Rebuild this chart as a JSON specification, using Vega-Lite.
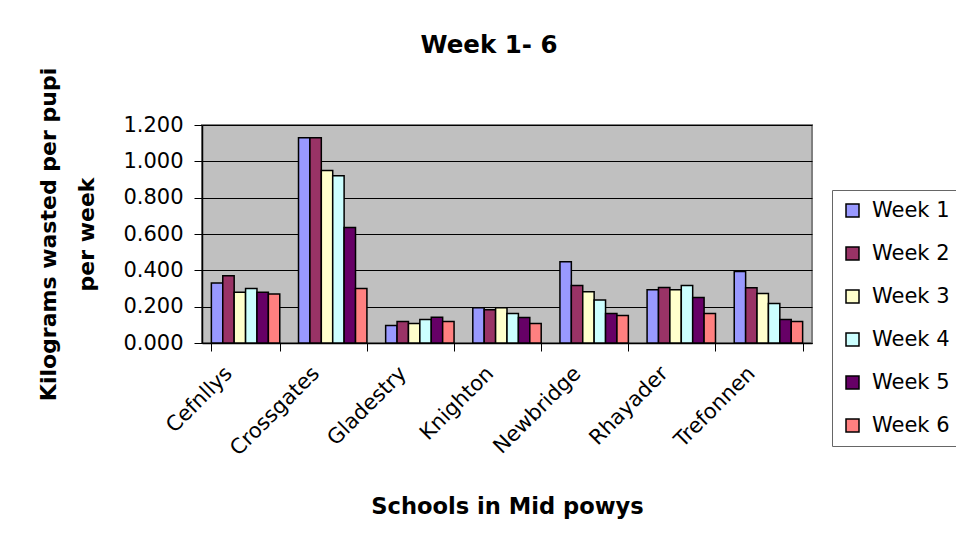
{
  "$schema": "https://vega.github.io/schema/vega-lite/v6.json",
  "autosize": {"type": "none"},
  "padding": {"left": 202, "top": 125, "right": 144, "bottom": 205},
  "width": 610,
  "height": 218,
  "background": "white",
  "title": {"text": "Week 1- 6", "font": "DejaVu Sans", "fontSize": 24.5, "fontWeight": "bold", "color": "black", "anchor": "middle", "frame": "group", "dx": -18, "baseline": "alphabetic", "offset": -10},
  "data": {"values": [
    {"school": "Cefnllys", "week": "Week 1", "kg": 0.33},
    {"school": "Cefnllys", "week": "Week 2", "kg": 0.37},
    {"school": "Cefnllys", "week": "Week 3", "kg": 0.28},
    {"school": "Cefnllys", "week": "Week 4", "kg": 0.30},
    {"school": "Cefnllys", "week": "Week 5", "kg": 0.28},
    {"school": "Cefnllys", "week": "Week 6", "kg": 0.27},
    {"school": "Crossgates", "week": "Week 1", "kg": 1.13},
    {"school": "Crossgates", "week": "Week 2", "kg": 1.13},
    {"school": "Crossgates", "week": "Week 3", "kg": 0.95},
    {"school": "Crossgates", "week": "Week 4", "kg": 0.92},
    {"school": "Crossgates", "week": "Week 5", "kg": 0.636},
    {"school": "Crossgates", "week": "Week 6", "kg": 0.30},
    {"school": "Gladestry", "week": "Week 1", "kg": 0.097},
    {"school": "Gladestry", "week": "Week 2", "kg": 0.118},
    {"school": "Gladestry", "week": "Week 3", "kg": 0.107},
    {"school": "Gladestry", "week": "Week 4", "kg": 0.13},
    {"school": "Gladestry", "week": "Week 5", "kg": 0.142},
    {"school": "Gladestry", "week": "Week 6", "kg": 0.118},
    {"school": "Knighton", "week": "Week 1", "kg": 0.194},
    {"school": "Knighton", "week": "Week 2", "kg": 0.183},
    {"school": "Knighton", "week": "Week 3", "kg": 0.194},
    {"school": "Knighton", "week": "Week 4", "kg": 0.163},
    {"school": "Knighton", "week": "Week 5", "kg": 0.14},
    {"school": "Knighton", "week": "Week 6", "kg": 0.108},
    {"school": "Newbridge", "week": "Week 1", "kg": 0.447},
    {"school": "Newbridge", "week": "Week 2", "kg": 0.317},
    {"school": "Newbridge", "week": "Week 3", "kg": 0.282},
    {"school": "Newbridge", "week": "Week 4", "kg": 0.237},
    {"school": "Newbridge", "week": "Week 5", "kg": 0.163},
    {"school": "Newbridge", "week": "Week 6", "kg": 0.152},
    {"school": "Rhayader", "week": "Week 1", "kg": 0.293},
    {"school": "Rhayader", "week": "Week 2", "kg": 0.306},
    {"school": "Rhayader", "week": "Week 3", "kg": 0.293},
    {"school": "Rhayader", "week": "Week 4", "kg": 0.317},
    {"school": "Rhayader", "week": "Week 5", "kg": 0.25},
    {"school": "Rhayader", "week": "Week 6", "kg": 0.163},
    {"school": "Trefonnen", "week": "Week 1", "kg": 0.393},
    {"school": "Trefonnen", "week": "Week 2", "kg": 0.304},
    {"school": "Trefonnen", "week": "Week 3", "kg": 0.272},
    {"school": "Trefonnen", "week": "Week 4", "kg": 0.218},
    {"school": "Trefonnen", "week": "Week 5", "kg": 0.13},
    {"school": "Trefonnen", "week": "Week 6", "kg": 0.118}
  ]},
  "mark": {"type": "bar", "stroke": "black", "strokeWidth": 1.5},
  "encoding": {
    "x": {
      "field": "school", "type": "nominal", "sort": null,
      "scale": {"paddingInner": 0.215, "paddingOuter": 0.1075},
      "axis": {
        "title": "Schools in Mid powys",
        "titleFont": "DejaVu Sans", "titleFontSize": 22.6, "titleFontWeight": "bold", "titleColor": "black",
        "titleY": 170, "titleBaseline": "alphabetic",
        "labelAngle": -45, "labelAlign": "right", "labelBaseline": "middle",
        "labelFont": "DejaVu Sans", "labelFontSize": 21, "labelColor": "black", "labelPadding": 19, "labelOffset": -17,
        "tickBand": "extent", "tickColor": "black", "tickSize": 8,
        "domainColor": "black", "domainWidth": 1.5, "grid": false
      }
    },
    "xOffset": {"field": "week", "type": "nominal", "scale": {"paddingInner": 0, "paddingOuter": 0}},
    "y": {
      "field": "kg", "type": "quantitative",
      "scale": {"domain": [0, 1.2], "nice": false},
      "axis": {
        "title": ["Kilograms wasted per pupi", "per week"],
        "titleFont": "DejaVu Sans", "titleFontSize": 22, "titleFontWeight": "bold", "titleColor": "black",
        "titleLineHeight": 38, "titleX": -147, "titleY": 109, "titleAlign": "center", "titleBaseline": "alphabetic", "titleAngle": -90,
        "values": [0, 0.2, 0.4, 0.6, 0.8, 1.0, 1.2], "format": ".3f",
        "labelFont": "DejaVu Sans", "labelFontSize": 21, "labelColor": "black", "labelPadding": 11,
        "tickColor": "black", "tickSize": 8,
        "domainColor": "black", "domainWidth": 1.5,
        "grid": true, "gridColor": "black", "gridWidth": 1
      }
    },
    "color": {
      "field": "week", "type": "nominal",
      "scale": {"domain": ["Week 1", "Week 2", "Week 3", "Week 4", "Week 5", "Week 6"], "range": ["#9999FF", "#993366", "#FFFFCC", "#CCFFFF", "#660066", "#FF8080"]},
      "legend": {
        "title": null, "orient": "none", "legendX": 630, "legendY": 65,
        "symbolType": "square", "symbolSize": 169, "symbolStrokeColor": "black", "symbolStrokeWidth": 1.5, "symbolOpacity": 1,
        "labelFont": "DejaVu Sans", "labelFontSize": 21, "labelColor": "black", "labelOffset": 9,
        "rowPadding": 21, "padding": 10,
        "strokeColor": "#666666", "fillColor": "white"
      }
    }
  },
  "config": {
    "view": {"fill": "#C0C0C0", "stroke": "#808080", "strokeWidth": 2}
  }
}
